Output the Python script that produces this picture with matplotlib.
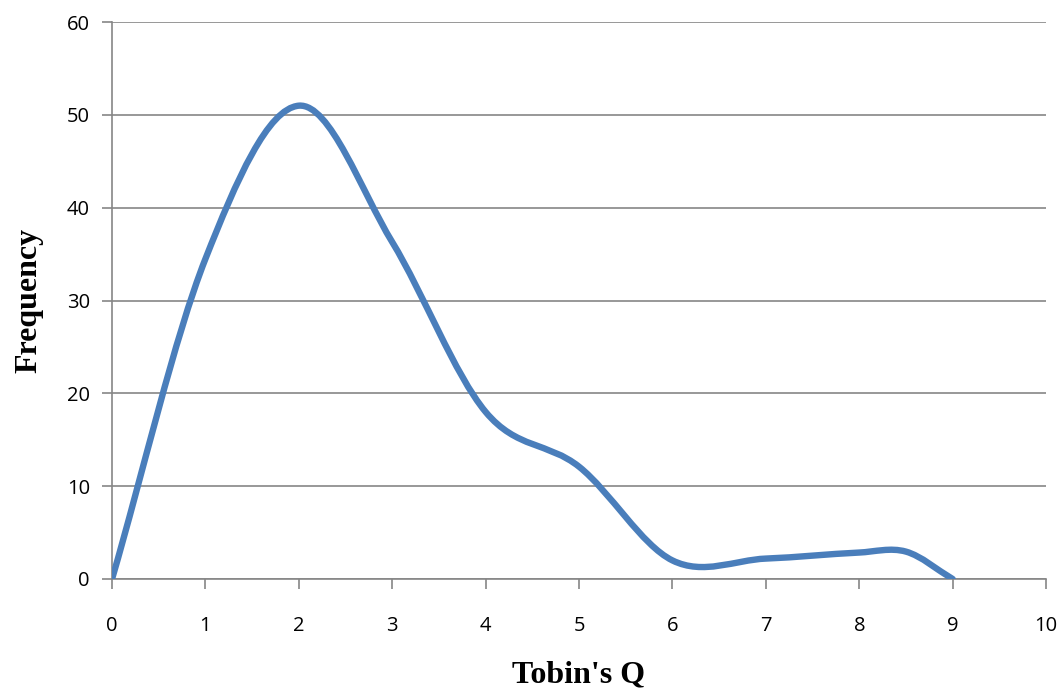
import numpy as np
import matplotlib
matplotlib.use('Agg')
import matplotlib.pyplot as plt
from matplotlib.path import Path
from matplotlib.patches import PathPatch

# Данные
tobins_q = [0, 1, 2, 3, 4, 5, 6, 7, 8, 8.5, 9]
frequency = [0, 34.5, 51, 36.3, 18, 12.1, 2.0, 2.2, 2.85, 2.95, 0]
x_ticks = [0, 1, 2, 3, 4, 5, 6, 7, 8, 9, 10]
y_ticks = [0, 10, 20, 30, 40, 50, 60]


# Сглаженная линия (как в Excel): кубические сегменты Безье через точки
def smooth_path(xs, ys):
    xs = np.asarray(xs, float)
    ys = np.asarray(ys, float)
    n = len(xs)
    slopes = np.zeros(n)
    for i in range(n):
        if i == 0:
            slopes[i] = (ys[1] - ys[0]) / (xs[1] - xs[0])
        elif i == n - 1:
            slopes[i] = (ys[-1] - ys[-2]) / (xs[-1] - xs[-2])
        else:
            slopes[i] = (ys[i + 1] - ys[i - 1]) / (xs[i + 1] - xs[i - 1])
    verts = [(xs[0], ys[0])]
    codes = [Path.MOVETO]
    for i in range(n - 1):
        h = xs[i + 1] - xs[i]
        verts.append((xs[i] + h / 3, ys[i] + slopes[i] * h / 3))
        verts.append((xs[i + 1] - h / 3, ys[i + 1] - slopes[i + 1] * h / 3))
        verts.append((xs[i + 1], ys[i + 1]))
        codes += [Path.CURVE4] * 3
    return Path(verts, codes)


fig = plt.figure(figsize=(10.62, 6.92), dpi=100)
ax = fig.add_axes([0.1055, 0.1633, 0.8795, 0.8047])

grid_color = '#868686'
line_color = '#4A7EBB'

ax.add_patch(PathPatch(smooth_path(tobins_q, frequency), facecolor='none',
                       edgecolor=line_color, linewidth=4.6, capstyle='round',
                       joinstyle='round', zorder=3))

ax.set_xlim(0, 10)
ax.set_ylim(0, 60)
ax.set_xticks(x_ticks)
ax.set_yticks(y_ticks)
ax.yaxis.grid(True, color=grid_color, linewidth=1.2)
ax.set_axisbelow(True)

for side in ['top', 'right']:
    ax.spines[side].set_visible(False)
for side in ['left', 'bottom']:
    ax.spines[side].set_color(grid_color)
    ax.spines[side].set_linewidth(1.2)

ax.tick_params(axis='both', colors=grid_color, length=7, width=1.2,
               labelcolor='black', labelsize=14.5)
ax.tick_params(axis='y', pad=9)
ax.tick_params(axis='x', pad=20)
for lab in ax.get_xticklabels() + ax.get_yticklabels():
    lab.set_family(['Open Sans', 'DejaVu Sans'])

ax.set_xlabel("Tobin's Q", family='Liberation Serif', fontweight='bold',
              fontsize=23, labelpad=17)
ax.set_ylabel('Frequency', family='Liberation Serif', fontweight='bold',
              fontsize=23, labelpad=17)

plt.savefig('out.png', dpi=100)
